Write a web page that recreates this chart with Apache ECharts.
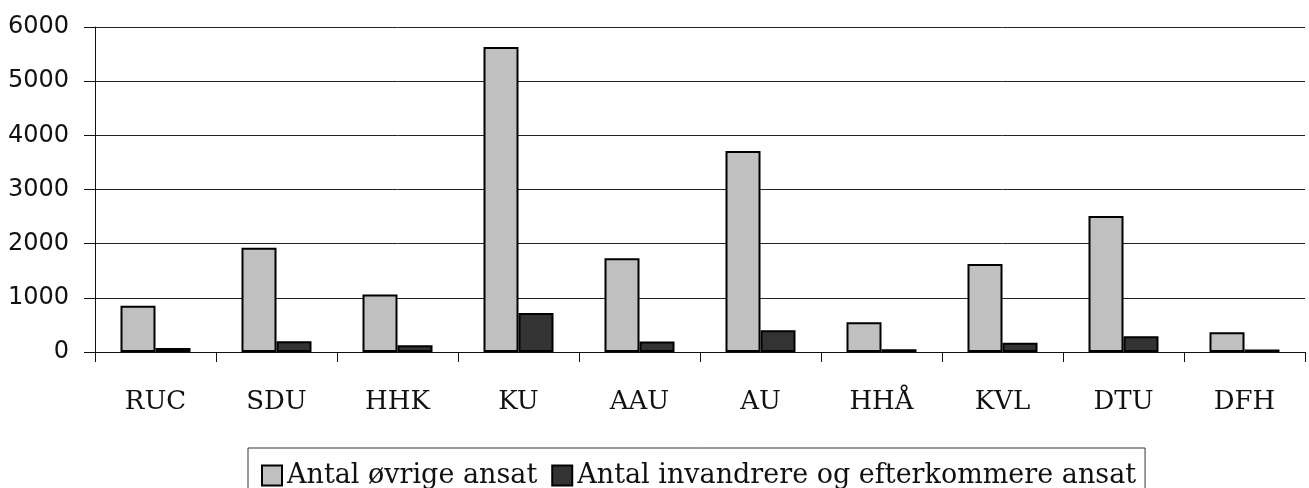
<!DOCTYPE html>
<html>
<head>
<meta charset="utf-8">
<script src="https://cdn.jsdelivr.net/npm/echarts@6/dist/echarts.min.js"></script>
<style>
  html, body { margin: 0; padding: 0; background: #fff; }
  #chart { width: 1309px; height: 488px; }
</style>
</head>
<body>
<div id="chart"></div>
<script>
const categories = ['RUC', 'SDU', 'HHK', 'KU', 'AAU', 'AU', 'HHÅ', 'KVL', 'DTU', 'DFH'];
const ovrigeAnsat = [855, 1925, 1060, 5630, 1730, 3710, 550, 1625, 2510, 365];
const invandrereAnsat = [75, 200, 125, 720, 195, 400, 50, 170, 290, 45];
const seriesNames = ['Antal øvrige ansat', 'Antal invandrere og efterkommere ansat'];
const yTicks = { min: 0, max: 6000, interval: 1000 };

const serif = '"DejaVu Serif", "Liberation Serif", serif';
const sans = '"DejaVu Sans", "Liberation Sans", sans-serif';

const chart = echarts.init(document.getElementById('chart'), null, { renderer: 'canvas' });
chart.setOption({
  animation: false,
  backgroundColor: '#ffffff',
  grid: { left: 95, right: 4, top: 27, bottom: 136, containLabel: false },
  legend: {
    left: 248,
    top: 448,
    padding: [14, 9, 12, 13],
    itemGap: 14,
    itemWidth: 20,
    itemHeight: 20,
    borderColor: '#333',
    borderWidth: 1,
    backgroundColor: '#fff',
    icon: 'rect',
    textStyle: { fontFamily: serif, fontSize: 27, color: '#111' },
    data: seriesNames
  },
  xAxis: {
    type: 'category',
    data: categories,
    boundaryGap: true,
    axisLine: { show: true, lineStyle: { color: '#111', width: 1 } },
    axisTick: { show: true, length: 10, interval: 0, lineStyle: { color: '#111' } },
    axisLabel: { interval: 0, margin: 37, fontFamily: serif, fontSize: 26, color: '#111' },
    splitLine: { show: false }
  },
  yAxis: {
    type: 'value',
    min: yTicks.min,
    max: yTicks.max,
    interval: yTicks.interval,
    axisLine: { show: true, lineStyle: { color: '#111', width: 1 } },
    axisTick: { show: true, length: 11, lineStyle: { color: '#111' } },
    axisLabel: { margin: 26, fontFamily: sans, fontSize: 24, color: '#111', formatter: (v) => String(v) },
    splitLine: { show: true, lineStyle: { color: '#222', width: 1 } }
  },
  series: [
    {
      name: seriesNames[0],
      type: 'bar',
      data: ovrigeAnsat,
      barWidth: 35,
      barGap: '0%',
      itemStyle: { color: '#c0c0c0', borderColor: '#000', borderWidth: 2 }
    },
    {
      name: seriesNames[1],
      type: 'bar',
      data: invandrereAnsat,
      barWidth: 35,
      barGap: '0%',
      itemStyle: { color: '#333333', borderColor: '#000', borderWidth: 2 }
    }
  ]
});
</script>
</body>
</html>
